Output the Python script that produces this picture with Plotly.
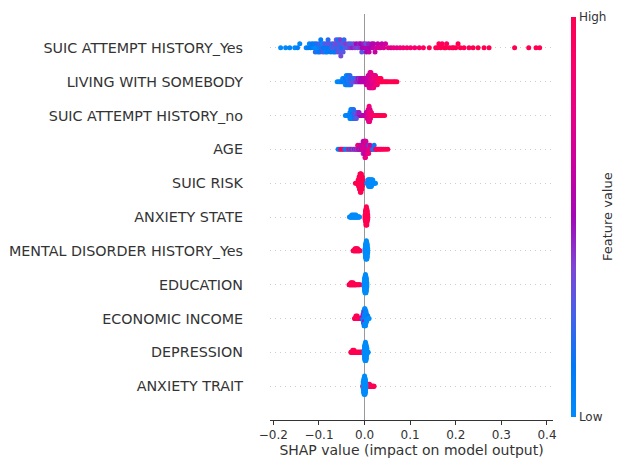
import numpy as np
import plotly.graph_objects as go

# Feature names, top to bottom
FEATURES = [
    "SUIC ATTEMPT HISTORY_Yes",
    "LIVING WITH SOMEBODY",
    "SUIC ATTEMPT HISTORY_no",
    "AGE",
    "SUIC RISK",
    "ANXIETY STATE",
    "MENTAL DISORDER HISTORY_Yes",
    "EDUCATION",
    "ECONOMIC INCOME",
    "DEPRESSION",
    "ANXIETY TRAIT",
]

X_TICKS = [-0.2, -0.1, 0.0, 0.1, 0.2, 0.3, 0.4]
COLORBAR_TICKS = ["Low", "High"]

# ---- continuous rows: SHAP value and (normalised) feature value per sample ----
SUIC_ATTEMPT_YES_SHAP = [
    -0.184, -0.173, -0.164, -0.153, -0.147, -0.142, -0.128, -0.124, -0.121, -0.118,
    -0.115, -0.112, -0.110, -0.108, -0.107, -0.105, -0.102, -0.100, -0.099, -0.098,
    -0.096, -0.094, -0.092, -0.091, -0.090, -0.088, -0.086, -0.084, -0.083, -0.082,
    -0.080, -0.078, -0.076, -0.074, -0.072, -0.070, -0.068, -0.066, -0.065, -0.064,
    -0.062, -0.060, -0.059, -0.058, -0.057, -0.056, -0.055, -0.054, -0.053, -0.052,
    -0.050, -0.049, -0.047, -0.045, -0.044, -0.041, -0.038, -0.035, -0.032, -0.030,
    -0.027, -0.024, -0.021, -0.018, -0.015, -0.012, -0.010, -0.008, -0.006, -0.005,
    -0.002, 0.001, 0.003, 0.004, 0.007, 0.009, 0.010, 0.013, 0.016, 0.018,
    0.020, 0.023, 0.026, 0.029, 0.032, 0.035, 0.038, 0.042, 0.046, 0.052,
    0.058, 0.064, 0.071, 0.078, 0.085, 0.093, 0.101, 0.110, 0.120, 0.129,
    0.142, 0.156, 0.160, 0.163, 0.167, 0.170, 0.175, 0.178, 0.180, 0.186,
    0.192, 0.195, 0.200, 0.205, 0.210, 0.218, 0.229, 0.238, 0.249, 0.262,
    0.273, 0.329, 0.360, 0.376, 0.384,
]
SUIC_ATTEMPT_YES_VALUE = [
    0.00, 0.02, 0.05, 0.00, 0.08, 0.03, 0.05, 0.10, 0.00, 0.12,
    0.15, 0.05, 0.10, 0.20, 0.00, 0.18, 0.10, 0.05, 0.25, 0.15,
    0.10, 0.22, 0.00, 0.30, 0.12, 0.25, 0.05, 0.15, 0.28, 0.10,
    0.20, 0.12, 0.32, 0.15, 0.25, 0.20, 0.10, 0.28, 0.35, 0.15,
    0.30, 0.20, 0.38, 0.35, 0.10, 0.30, 0.22, 0.28, 0.40, 0.35,
    0.15, 0.32, 0.30, 0.20, 0.25, 0.40, 0.30, 0.35, 0.40, 0.25,
    0.45, 0.35, 0.40, 0.50, 0.35, 0.45, 0.40, 0.50, 0.30, 0.50,
    0.45, 0.55, 0.35, 0.50, 0.55, 0.45, 0.60, 0.50, 0.55, 0.60,
    0.55, 0.60, 0.65, 0.60, 0.70, 0.65, 0.60, 0.70, 0.65, 0.75,
    0.70, 0.80, 0.75, 0.80, 0.85, 0.85, 0.90, 0.85, 0.90, 0.95,
    1.00, 1.00, 0.95, 1.00, 1.00, 0.95, 1.00, 1.00, 0.95, 1.00,
    1.00, 0.95, 1.00, 1.00, 1.00, 1.00, 0.95, 1.00, 1.00, 1.00,
    1.00, 1.00, 1.00, 1.00, 1.00,
]

LIVING_SHAP = [
    -0.060, -0.056, -0.053, -0.050, -0.048, -0.048, -0.046, -0.046, -0.044, -0.044,
    -0.042, -0.042, -0.042, -0.040, -0.040, -0.040, -0.040, -0.038, -0.038, -0.038,
    -0.036, -0.036, -0.036, -0.036, -0.034, -0.034, -0.034, -0.032, -0.032, -0.032,
    -0.032, -0.030, -0.030, -0.030, -0.028, -0.028, -0.026, -0.026, -0.024, -0.024,
    -0.022, -0.022, -0.020, -0.018, -0.018, -0.016, -0.016, -0.014, -0.014, -0.012,
    -0.012, -0.010, -0.010, -0.008, -0.008, -0.006, -0.006, -0.004, -0.004, -0.002,
    -0.002, 0.000, 0.000, 0.002, 0.002, 0.004, 0.004, 0.004, 0.006, 0.006,
    0.006, 0.008, 0.008, 0.008, 0.008, 0.010, 0.010, 0.010, 0.010, 0.010,
    0.012, 0.012, 0.012, 0.012, 0.012, 0.012, 0.014, 0.014, 0.014, 0.014,
    0.014, 0.014, 0.016, 0.016, 0.016, 0.016, 0.016, 0.018, 0.018, 0.018,
    0.018, 0.018, 0.020, 0.020, 0.020, 0.020, 0.020, 0.022, 0.022, 0.022,
    0.022, 0.024, 0.024, 0.024, 0.024, 0.026, 0.026, 0.026, 0.028, 0.028,
    0.028, 0.030, 0.030, 0.032, 0.032, 0.034, 0.034, 0.036, 0.036, 0.038,
    0.040, 0.043, 0.046, 0.049, 0.052, 0.056, 0.060, 0.064, 0.067, 0.071,
]
LIVING_VALUE = [
    0.00, 0.05, 0.00, 0.10, 0.05, 0.00, 0.15, 0.05, 0.10, 0.00,
    0.05, 0.15, 0.00, 0.10, 0.20, 0.05, 0.00, 0.15, 0.10, 0.20,
    0.05, 0.25, 0.10, 0.15, 0.20, 0.00, 0.10, 0.25, 0.15, 0.05,
    0.20, 0.10, 0.30, 0.20, 0.25, 0.15, 0.30, 0.20, 0.35, 0.25,
    0.30, 0.20, 0.35, 0.40, 0.30, 0.45, 0.35, 0.40, 0.50, 0.45,
    0.40, 0.50, 0.45, 0.55, 0.50, 0.50, 0.55, 0.60, 0.55, 0.60,
    0.50, 0.55, 0.60, 0.55, 0.60, 0.60, 0.55, 0.65, 0.60, 0.65,
    0.60, 0.65, 0.60, 0.70, 0.65, 0.65, 0.60, 0.70, 0.65, 0.70,
    0.65, 0.70, 0.60, 0.70, 0.75, 0.65, 0.70, 0.65, 0.75, 0.60,
    0.70, 0.75, 0.70, 0.75, 0.65, 0.80, 0.70, 0.75, 0.70, 0.80,
    0.75, 0.70, 0.75, 0.80, 0.70, 0.75, 0.80, 0.75, 0.85, 0.70,
    0.80, 0.75, 0.80, 0.85, 0.75, 0.80, 0.85, 0.80, 0.85, 0.80,
    0.85, 0.85, 0.90, 0.85, 0.90, 0.95, 0.90, 0.95, 1.00, 0.95,
    1.00, 1.00, 1.00, 1.00, 1.00, 1.00, 1.00, 1.00, 1.00, 1.00,
]

SUIC_ATTEMPT_NO_SHAP = [
    -0.042, -0.040, -0.038, -0.036, -0.035, -0.034, -0.033, -0.032, -0.032, -0.031,
    -0.030, -0.030, -0.030, -0.029, -0.028, -0.028, -0.028, -0.027, -0.026, -0.026,
    -0.026, -0.025, -0.024, -0.024, -0.024, -0.023, -0.022, -0.022, -0.021, -0.020,
    -0.020, -0.019, -0.018, -0.018, -0.017, -0.016, -0.015, -0.014, -0.013, -0.012,
    -0.011, -0.010, -0.009, -0.008, -0.007, -0.006, -0.005, -0.004, -0.003, -0.002,
    -0.001, 0.000, 0.001, 0.002, 0.003, 0.004, 0.004, 0.005, 0.005, 0.006,
    0.006, 0.006, 0.007, 0.007, 0.007, 0.008, 0.008, 0.008, 0.008, 0.009,
    0.009, 0.009, 0.009, 0.009, 0.010, 0.010, 0.010, 0.010, 0.010, 0.010,
    0.011, 0.011, 0.011, 0.011, 0.011, 0.012, 0.012, 0.012, 0.012, 0.013,
    0.013, 0.013, 0.014, 0.014, 0.015, 0.015, 0.016, 0.017, 0.018, 0.019,
    0.020, 0.022, 0.024, 0.026, 0.028, 0.030, 0.033, 0.036, 0.040, 0.044,
    -0.030, -0.028, -0.026, -0.024, -0.022, -0.032, -0.020, -0.018, -0.014, -0.012,
]
SUIC_ATTEMPT_NO_VALUE = [
    0.00, 0.05, 0.00, 0.10, 0.05, 0.00, 0.15, 0.05, 0.10, 0.00,
    0.10, 0.00, 0.20, 0.05, 0.15, 0.05, 0.10, 0.20, 0.00, 0.15,
    0.10, 0.20, 0.05, 0.15, 0.25, 0.10, 0.20, 0.30, 0.15, 0.25,
    0.30, 0.20, 0.35, 0.25, 0.30, 0.40, 0.35, 0.45, 0.40, 0.45,
    0.50, 0.45, 0.50, 0.55, 0.50, 0.55, 0.50, 0.60, 0.55, 0.60,
    0.50, 0.55, 0.60, 0.55, 0.60, 0.65, 0.55, 0.60, 0.65, 0.70,
    0.60, 0.65, 0.70, 0.65, 0.75, 0.65, 0.70, 0.75, 0.60, 0.70,
    0.75, 0.65, 0.80, 0.70, 0.75, 0.70, 0.80, 0.65, 0.75, 0.85,
    0.80, 0.70, 0.75, 0.85, 0.80, 0.75, 0.85, 0.80, 0.70, 0.80,
    0.85, 0.75, 0.80, 0.90, 0.85, 0.80, 0.85, 0.90, 0.85, 0.90,
    0.85, 0.90, 0.95, 0.90, 0.95, 1.00, 0.95, 1.00, 1.00, 1.00,
    0.05, 0.10, 0.00, 0.20, 0.15, 0.05, 0.25, 0.30, 0.40, 0.45,
]

AGE_SHAP = [
    -0.058, -0.055, -0.052, -0.049, -0.046, -0.043, -0.040, -0.037, -0.034, -0.031,
    -0.028, -0.025, -0.022, -0.020, -0.018, -0.016, -0.015, -0.014, -0.013, -0.012,
    -0.011, -0.010, -0.010, -0.009, -0.008, -0.008, -0.007, -0.006, -0.006, -0.005,
    -0.005, -0.004, -0.004, -0.003, -0.003, -0.002, -0.002, -0.002, -0.001, -0.001,
    0.000, 0.000, 0.000, 0.000, 0.001, 0.001, 0.001, 0.001, 0.001, 0.002,
    0.002, 0.002, 0.002, 0.002, 0.003, 0.003, 0.003, 0.003, 0.004, 0.004,
    0.004, 0.005, 0.005, 0.005, 0.006, 0.006, 0.007, 0.007, 0.008, 0.008,
    0.009, 0.010, 0.010, 0.011, 0.012, 0.012, 0.013, 0.014, 0.015, 0.016,
    0.018, 0.020, 0.021, 0.023, 0.024, 0.026, 0.029, 0.032, 0.035, 0.038,
    0.042, 0.046, 0.051,
]
AGE_VALUE = [
    0.05, 0.10, 0.95, 1.00, 0.90, 0.10, 0.05, 0.20, 0.85, 0.15,
    0.70, 0.30, 0.60, 0.20, 0.75, 0.40, 0.80, 0.15, 0.70, 0.55,
    0.70, 0.45, 0.75, 0.60, 0.25, 0.65, 0.70, 0.50, 0.80, 0.65,
    0.45, 0.75, 0.60, 0.70, 0.55, 0.65, 0.80, 0.35, 0.70, 0.60,
    0.65, 0.75, 0.50, 0.70, 0.60, 0.80, 0.70, 0.55, 0.65, 0.75,
    0.60, 0.70, 0.55, 0.80, 0.65, 0.75, 0.60, 0.70, 0.65, 0.80,
    0.55, 0.70, 0.60, 0.75, 0.65, 0.80, 0.70, 0.45, 0.75, 0.65,
    0.80, 0.70, 0.20, 0.75, 0.85, 0.65, 0.80, 0.75, 0.90, 0.80,
    0.10, 0.05, 0.15, 0.10, 0.95, 0.90, 1.00, 0.95, 1.00, 0.90,
    1.00, 0.95, 1.00,
]

ECONOMIC_SHAP = [
    -0.022, -0.021, -0.020, -0.019, -0.019, -0.018, -0.017, -0.016, -0.016, -0.015,
    -0.014, -0.013, -0.012, -0.011, -0.010, -0.009, -0.008, -0.007, -0.006, -0.005,
    -0.004, -0.004, -0.003, -0.003, -0.003, -0.003, -0.002, -0.002, -0.002, -0.002,
    -0.002, -0.002, -0.001, -0.001, -0.001, -0.001, -0.001, -0.001, -0.001, 0.000,
    0.000, 0.000, 0.000, 0.000, 0.000, 0.000, 0.000, 0.001, 0.001, 0.001,
    0.001, 0.001, 0.001, 0.001, 0.001, 0.002, 0.002, 0.002, 0.002, 0.002,
    0.002, 0.002, 0.003, 0.003, 0.003, 0.003, 0.003, 0.003, 0.004, 0.004,
    0.004, 0.004, 0.005, 0.005, 0.005, 0.006, 0.006, 0.007, 0.007, 0.008,
    0.010,
]
ECONOMIC_VALUE = [
    1.00, 0.95, 1.00, 1.00, 0.95, 1.00, 1.00, 0.95, 1.00, 1.00,
    1.00, 0.95, 1.00, 1.00, 0.90, 1.00, 0.85, 0.90, 0.80, 0.75,
    0.10, 0.50, 0.00, 0.45, 0.10, 0.55, 0.05, 0.40, 0.00, 0.50,
    0.10, 0.00, 0.05, 0.45, 0.00, 0.10, 0.55, 0.00, 0.05, 0.00,
    0.10, 0.50, 0.05, 0.00, 0.40, 0.10, 0.00, 0.05, 0.00, 0.45,
    0.10, 0.00, 0.55, 0.05, 0.00, 0.00, 0.10, 0.50, 0.05, 0.00,
    0.15, 0.00, 0.05, 0.00, 0.45, 0.10, 0.00, 0.05, 0.00, 0.10,
    0.00, 0.05, 0.00, 0.10, 0.00, 0.05, 0.00, 0.00, 0.10, 0.00,
    0.00,
]

# ---- binary rows: SHAP values of samples with high (1) and low (0) feature value ----
SUIC_RISK_HIGH = [
    -0.020, -0.018, -0.016, -0.015, -0.014, -0.014, -0.013, -0.013, -0.013,
    -0.012, -0.012, -0.012, -0.012, -0.011, -0.011, -0.011, -0.011, -0.011,
    -0.010, -0.010, -0.010, -0.010, -0.010, -0.010,
    -0.009, -0.009, -0.009, -0.009, -0.009, -0.009, -0.009,
    -0.008, -0.008, -0.008, -0.008, -0.008, -0.008, -0.008,
    -0.007, -0.007, -0.007, -0.007, -0.007, -0.007,
    -0.006, -0.006, -0.006, -0.006, -0.006,
    -0.005, -0.005, -0.005, -0.005, -0.004, -0.004,
]
SUIC_RISK_LOW = [
    0.005, 0.006, 0.007, 0.007, 0.008, 0.008, 0.009, 0.009, 0.009,
    0.010, 0.010, 0.010, 0.011, 0.011, 0.011, 0.012, 0.012, 0.012,
    0.013, 0.013, 0.013, 0.014, 0.014, 0.014, 0.015, 0.015, 0.015,
    0.016, 0.016, 0.017, 0.017, 0.018, 0.018, 0.019, 0.020, 0.022, 0.024,
]

ANXIETY_STATE_LOW = [
    -0.033, -0.032, -0.031, -0.030, -0.029, -0.028, -0.028, -0.027, -0.026,
    -0.025, -0.025, -0.024, -0.023, -0.022, -0.022, -0.021, -0.020, -0.019,
    -0.019, -0.018, -0.017, -0.016, -0.015, -0.014, -0.013, -0.012, -0.011,
]
ANXIETY_STATE_HIGH = [
    0.001, 0.001, 0.001,
    0.002, 0.002, 0.002, 0.002, 0.002, 0.002,
    0.003, 0.003, 0.003, 0.003, 0.003, 0.003, 0.003, 0.003, 0.003,
    0.004, 0.004, 0.004, 0.004, 0.004, 0.004, 0.004, 0.004, 0.004, 0.004,
    0.005, 0.005, 0.005, 0.005, 0.005, 0.005, 0.005, 0.005, 0.005,
    0.006, 0.006, 0.006, 0.006, 0.006, 0.006,
    0.007, 0.007, 0.007,
]

MENTAL_HIGH = [
    -0.025, -0.024, -0.023, -0.022, -0.021, -0.021, -0.020, -0.019, -0.019, -0.018,
    -0.017, -0.017, -0.016, -0.015, -0.015, -0.014, -0.013, -0.012, -0.011, -0.010,
]
MENTAL_LOW = [
    0.001, 0.001, 0.001,
    0.002, 0.002, 0.002, 0.002, 0.002, 0.002, 0.002,
    0.003, 0.003, 0.003, 0.003, 0.003, 0.003, 0.003, 0.003, 0.003,
    0.004, 0.004, 0.004, 0.004, 0.004, 0.004, 0.004, 0.004, 0.004, 0.004,
    0.005, 0.005, 0.005, 0.005, 0.005, 0.005, 0.005, 0.005, 0.005,
    0.006, 0.006, 0.006, 0.006, 0.006, 0.006, 0.006,
    0.007, 0.007, 0.007,
]

EDUCATION_HIGH = [
    -0.034, -0.033, -0.032, -0.031, -0.030, -0.030, -0.029, -0.028, -0.028, -0.027,
    -0.026, -0.025, -0.025, -0.024, -0.023, -0.022, -0.021, -0.020, -0.019, -0.018,
    -0.016, -0.014, -0.012, -0.010,
]
EDUCATION_LOW = [
    -0.001, -0.001, -0.001,
    0.000, 0.000, 0.000, 0.000, 0.000, 0.000, 0.000,
    0.001, 0.001, 0.001, 0.001, 0.001, 0.001, 0.001, 0.001, 0.001,
    0.002, 0.002, 0.002, 0.002, 0.002, 0.002, 0.002, 0.002, 0.002, 0.002,
    0.003, 0.003, 0.003, 0.003, 0.003, 0.003, 0.003, 0.003, 0.003,
    0.004, 0.004, 0.004, 0.004, 0.004, 0.004, 0.004,
    0.005, 0.005, 0.005,
]

DEPRESSION_HIGH = [
    -0.030, -0.029, -0.028, -0.027, -0.026, -0.026, -0.025, -0.024, -0.023, -0.023,
    -0.022, -0.021, -0.020, -0.019, -0.018, -0.017, -0.016, -0.015, -0.014, -0.013,
    -0.012, -0.011, -0.010, -0.009, -0.008, -0.007, -0.006, -0.005, -0.004, -0.003,
]
DEPRESSION_LOW = [
    -0.001, -0.001, -0.001,
    0.000, 0.000, 0.000, 0.000, 0.000, 0.000, 0.000,
    0.001, 0.001, 0.001, 0.001, 0.001, 0.001, 0.001, 0.001, 0.001,
    0.002, 0.002, 0.002, 0.002, 0.002, 0.002, 0.002, 0.002, 0.002, 0.002,
    0.003, 0.003, 0.003, 0.003, 0.003, 0.003, 0.003, 0.003, 0.003,
    0.004, 0.004, 0.004, 0.004, 0.004, 0.004, 0.004,
    0.005, 0.005, 0.005, 0.005, 0.007, 0.008,
]

ANXIETY_TRAIT_HIGH = [
    -0.004, -0.003, 0.004, 0.005, 0.006, 0.007, 0.008, 0.008, 0.009, 0.010,
    0.011, 0.011, 0.012, 0.013, 0.014, 0.015, 0.016, 0.017, 0.018, 0.019,
    0.020, 0.021,
]
ANXIETY_TRAIT_LOW = [
    -0.003, -0.003, -0.003,
    -0.002, -0.002, -0.002, -0.002, -0.002, -0.002, -0.002,
    -0.001, -0.001, -0.001, -0.001, -0.001, -0.001, -0.001, -0.001, -0.001,
    0.000, 0.000, 0.000, 0.000, 0.000, 0.000, 0.000, 0.000, 0.000, 0.000,
    0.001, 0.001, 0.001, 0.001, 0.001, 0.001, 0.001, 0.001, 0.001,
    0.002, 0.002, 0.002, 0.002, 0.002, 0.002, 0.002,
    0.003, 0.003, 0.003,
]


def binary(first, first_val, second, second_val):
    return (list(first) + list(second),
            [first_val] * len(first) + [second_val] * len(second))


ROWS = [
    (SUIC_ATTEMPT_YES_SHAP, SUIC_ATTEMPT_YES_VALUE),
    (LIVING_SHAP, LIVING_VALUE),
    (SUIC_ATTEMPT_NO_SHAP, SUIC_ATTEMPT_NO_VALUE),
    (AGE_SHAP, AGE_VALUE),
    binary(SUIC_RISK_HIGH, 1.0, SUIC_RISK_LOW, 0.0),
    binary(ANXIETY_STATE_LOW, 0.0, ANXIETY_STATE_HIGH, 1.0),
    binary(MENTAL_HIGH, 1.0, MENTAL_LOW, 0.0),
    binary(EDUCATION_HIGH, 1.0, EDUCATION_LOW, 0.0),
    (ECONOMIC_SHAP, ECONOMIC_VALUE),
    binary(DEPRESSION_HIGH, 1.0, DEPRESSION_LOW, 0.0),
    binary(ANXIETY_TRAIT_HIGH, 1.0, ANXIETY_TRAIT_LOW, 0.0),
]


def beeswarm_offsets(shaps, row_height=0.4, nbins=100):
    """Vertical offsets as in shap's beeswarm summary plot."""
    s = np.asarray(shaps, dtype=float)
    quant = np.round(nbins * (s - s.min()) / (s.max() - s.min() + 1e-8))
    inds = np.argsort(quant, kind="stable")
    layer, last_bin = 0, -1
    ys = np.zeros(len(s))
    for ind in inds:
        if quant[ind] != last_bin:
            layer = 0
        ys[ind] = np.ceil(layer / 2) * ((layer % 2) * 2 - 1)
        layer += 1
        last_bin = quant[ind]
    ys *= 0.9 * (row_height / np.max(ys + 1))
    return ys


RED_BLUE = [
    [0.0, "rgb(0,139,251)"],
    [0.125, "rgb(0,121,247)"],
    [0.25, "rgb(67,98,235)"],
    [0.375, "rgb(126,69,214)"],
    [0.5, "rgb(162,8,183)"],
    [0.625, "rgb(201,0,161)"],
    [0.75, "rgb(230,0,135)"],
    [0.875, "rgb(249,0,108)"],
    [1.0, "rgb(255,0,81)"],
]

n = len(FEATURES)
xs, ys, cs = [], [], []
for i, (sv, fv) in enumerate(ROWS):
    pos = n - 1 - i
    off = beeswarm_offsets(sv)
    xs.extend(sv)
    ys.extend((pos + off).tolist())
    cs.extend(fv)

AXIS = "#333333"
FONT = "DejaVu Sans"

fig = go.Figure(
    go.Scatter(
        x=xs, y=ys, mode="markers", hoverinfo="skip",
        marker=dict(
            size=5, color=cs, colorscale=RED_BLUE, cmin=0, cmax=1,
            line=dict(width=0), opacity=1,
            showscale=True,
            colorbar=dict(
                thickness=5, thicknessmode="pixels",
                len=400, lenmode="pixels",
                x=1.0636, xanchor="left", xpad=0,
                y=0.5, yanchor="middle", ypad=0,
                outlinewidth=0,
                tickvals=[0, 1], ticktext=COLORBAR_TICKS,
                ticks="", ticklen=0,
                tickfont=dict(family=FONT, size=12, color=AXIS),
            ),
        ),
    )
)

# The page body adds an 8px offset, so the figure is 8px smaller on each side.
fig.update_layout(
    width=613, height=451,
    margin=dict(l=262, r=68, t=6, b=39),
    paper_bgcolor="white", plot_bgcolor="white",
    showlegend=False,
    font=dict(family=FONT, color=AXIS),
    annotations=[dict(
        text="Feature value", xref="paper", yref="paper",
        x=1.191, y=0.5, xanchor="center", yanchor="middle",
        textangle=-90, showarrow=False,
        font=dict(family=FONT, size=13, color=AXIS),
    )],
)

fig.update_xaxes(
    range=[-0.2073, 0.4132],
    tickvals=X_TICKS, tickformat=".1f",
    ticks="outside", ticklen=4, tickwidth=1, tickcolor=AXIS,
    tickfont=dict(family=FONT, size=12, color=AXIS),
    showline=True, linecolor=AXIS, linewidth=1,
    showgrid=False,
    zeroline=True, zerolinecolor="#999999", zerolinewidth=1.2,
    automargin=False,
    title=dict(text="SHAP value (impact on model output)",
               font=dict(family=FONT, size=14, color=AXIS), standoff=2),
)

fig.update_yaxes(
    range=[-1, n],
    tickvals=list(range(n)), ticktext=FEATURES[::-1],
    tickfont=dict(family=FONT, size=14.3, color=AXIS),
    ticks="", ticklabelstandoff=26,
    showline=False, zeroline=False, automargin=False,
    showgrid=True, gridcolor="#cccccc", gridwidth=1, griddash="1px,4px",
)

fig.write_html("out.html")
